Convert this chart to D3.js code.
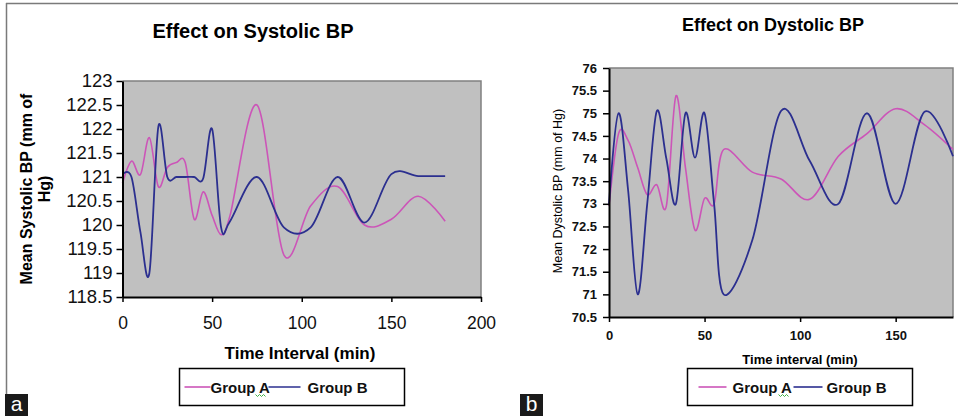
<!DOCTYPE html>
<html>
<head>
<meta charset="utf-8">
<script src="https://cdn.jsdelivr.net/npm/d3@7"></script>
<style>
  body { margin: 0; background: #fff; }
  svg { display: block; font-family: "Liberation Sans", Arial, sans-serif; }
  .axis path, .axis line { stroke: #000; }
</style>
</head>
<body>
<div id="chart"></div>
<script>
// time points (min), same for both panels
var times = [0, 5, 10, 15, 20, 25, 30, 35, 40, 45, 50, 55, 60, 75, 90, 105, 120, 135, 150, 165, 180];

// panel a - systolic
var sysGroupA = [120.87, 121.33, 121.05, 121.82, 120.8, 121.2, 121.3, 121.3, 120.12, 120.69, 120.2, 119.8, 120.2, 122.5, 119.38, 120.4, 120.8, 120.0, 120.12, 120.6, 120.08];
var sysGroupB = [121.05, 121.0, 119.85, 119.0, 122.05, 121.0, 121.0, 121.0, 121.0, 120.97, 122.0, 119.95, 120.08, 121.0, 119.95, 119.95, 121.0, 120.05, 121.06, 121.02, 121.02];
var sysYTicks = [118.5, 119, 119.5, 120, 120.5, 121, 121.5, 122, 122.5, 123];
var sysXTicks = [0, 50, 100, 150, 200];

// panel b - diastolic
var diaGroupA = [72.95, 74.55, 74.4, 73.8, 73.2, 73.42, 72.95, 75.38, 73.8, 72.42, 73.12, 73.0, 74.2, 73.7, 73.55, 73.1, 74.05, 74.55, 75.1, 74.75, 74.2];
var diaGroupB = [73.0, 75.0, 73.3, 71.0, 73.0, 75.05, 74.0, 73.0, 75.0, 74.02, 75.0, 73.0, 71.0, 72.2, 75.05, 73.95, 73.0, 75.0, 73.0, 75.03, 74.05];
var diaYTicks = [70.5, 71, 71.5, 72, 72.5, 73, 73.5, 74, 74.5, 75, 75.5, 76];
var diaXTicks = [0, 50, 100, 150];

var seriesNames = ["Group A", "Group B"];
var colA = "#cc55b8", colB = "#2b2f8f";

var svg = d3.select("#chart").append("svg")
  .attr("width", 958)
  .attr("height", 416);

// outer frame
svg.append("line").attr("x1", 6).attr("x2", 958).attr("y1", 3.5).attr("y2", 3.5)
  .attr("stroke", "#7a7a7a").attr("stroke-width", 1.5);
svg.append("line").attr("x1", 6.5).attr("x2", 6.5).attr("y1", 3).attr("y2", 394)
  .attr("stroke", "#7a7a7a").attr("stroke-width", 1.5);

function drawPanel(o) {
  var x = d3.scaleLinear().domain(o.xDomain).range([o.left, o.right]);
  var y = d3.scaleLinear().domain(o.yDomain).range([o.bottom, o.top]);
  var g = svg.append("g");

  // plot area
  g.append("rect")
    .attr("x", o.left).attr("y", o.top)
    .attr("width", o.right - o.left).attr("height", o.bottom - o.top)
    .attr("fill", "#c0c0c0");
  g.append("path")
    .attr("d", `M${o.left},${o.top}H${o.right}V${o.bottom}`)
    .attr("fill", "none").attr("stroke", "#808080").attr("stroke-width", 1.5);

  var line = d3.line()
    .x((d, i) => x(times[i]))
    .y(d => y(d))
    .curve(d3.curveCardinal.tension(0));

  g.append("path").datum(o.a).attr("d", line)
    .attr("fill", "none").attr("stroke", colA).attr("stroke-width", 1.6);
  g.append("path").datum(o.b).attr("d", line)
    .attr("fill", "none").attr("stroke", colB).attr("stroke-width", 1.8);

  // axes
  var yAxis = g.append("g").attr("class", "axis")
    .attr("transform", `translate(${o.left},0)`)
    .call(d3.axisLeft(y).tickValues(o.yTicks).tickFormat(d3.format("")).tickSize(6).tickPadding(o.yPad).tickSizeOuter(0));
  var xAxis = g.append("g").attr("class", "axis")
    .attr("transform", `translate(0,${o.bottom})`)
    .call(d3.axisBottom(x).tickValues(o.xTicks).tickSize(5).tickPadding(o.xPad).tickSizeOuter(0));
  [yAxis, xAxis].forEach(function(ax, k) {
    ax.selectAll("path").attr("stroke-width", 2);
    ax.selectAll("line").attr("stroke-width", 1.5);
    ax.selectAll("text")
      .attr("fill", "#111")
      .style("font-size", (k == 0 ? o.yTickFont : o.xTickFont) + "px")
      .style("font-weight", o.tickWeight)
      .style("font-family", "'Liberation Sans', Arial, sans-serif");
  });

  // title
  g.append("text")
    .attr("x", o.titleX).attr("y", o.titleY)
    .attr("text-anchor", "middle")
    .style("font-size", o.titleFont + "px").style("font-weight", "bold")
    .text(o.title);

  // y label
  var yl = g.append("text")
    .attr("transform", `translate(${o.yLabelX},${o.yLabelY}) rotate(-90)`)
    .attr("text-anchor", "middle")
    .style("font-size", o.yLabelFont + "px").style("font-weight", o.yLabelWeight);
  o.yLabel.forEach(function(t, i) {
    yl.append("tspan").attr("x", 0).attr("y", i * o.yLabelFont * 1.15).text(t);
  });

  // x label
  g.append("text")
    .attr("x", o.xLabelX).attr("y", o.xLabelY)
    .attr("text-anchor", "middle")
    .style("font-size", o.xLabelFont + "px").style("font-weight", "bold")
    .text(o.xLabel);

  // legend
  var lg = g.append("g").attr("transform", `translate(${o.legX},${o.legY})`);
  lg.append("rect").attr("width", 225).attr("height", 37)
    .attr("fill", "#fff").attr("stroke", "#000").attr("stroke-width", 1.5);
  var items = [
    { name: seriesNames[0], col: colA, lx: o.leg[0], tx: o.leg[1] },
    { name: seriesNames[1], col: colB, lx: o.leg[2], tx: o.leg[3] }
  ];
  items.forEach(function(it) {
    lg.append("line").attr("x1", it.lx[0]).attr("x2", it.lx[1]).attr("y1", 18.5).attr("y2", 18.5)
      .attr("stroke", it.col).attr("stroke-width", 1.6);
    lg.append("text").attr("x", it.tx).attr("y", 24)
      .style("font-size", "15px").style("font-weight", "bold").attr("fill", "#111")
      .text(it.name);
  });
  // spell-check squiggle under "A"
  var sq = o.leg[4];
  lg.append("path")
    .attr("d", `M${sq},26 l2,2 l2,-2 l2,2 l2,-2 l2,2`)
    .attr("fill", "none").attr("stroke", "#3cb043").attr("stroke-width", 1);

  // panel letter
  svg.append("rect").attr("x", o.tagX).attr("y", 394).attr("width", 23).attr("height", 22).attr("fill", "#1a1a1a");
  svg.append("text").attr("x", o.tagX + 11.5).attr("y", 411).attr("text-anchor", "middle")
    .attr("fill", "#fff").style("font-size", "21px").text(o.tag);
}

drawPanel({
  a: sysGroupA, b: sysGroupB,
  xDomain: [0, 200], yDomain: [118.5, 123],
  left: 122.5, right: 481, top: 81, bottom: 297,
  yTicks: sysYTicks, xTicks: sysXTicks, yPad: 4, xPad: 15,
  yTickFont: 18.5, xTickFont: 17.5, tickWeight: "normal",
  title: "Effect on Systolic BP", titleX: 253, titleY: 38, titleFont: 20,
  yLabel: ["Mean Systolic BP (mm of", "Hg)"], yLabelX: 32, yLabelY: 189, yLabelFont: 16, yLabelWeight: "bold",
  xLabel: "Time Interval (min)", xLabelX: 300, xLabelY: 359, xLabelFont: 17,
  legX: 179.5, legY: 368.5, leg: [[5, 31], 31, [89, 121], 128, 76],
  tag: "a", tagX: 5
});

drawPanel({
  a: diaGroupA, b: diaGroupB,
  xDomain: [0, 180], yDomain: [70.5, 76],
  left: 609, right: 953, top: 68, bottom: 317,
  yTicks: diaYTicks, xTicks: diaXTicks, yPad: 6, xPad: 9,
  yTickFont: 13, xTickFont: 13, tickWeight: "bold",
  title: "Effect on Dystolic BP", titleX: 773, titleY: 31, titleFont: 18,
  yLabel: ["Mean Dystolic BP (mm of Hg)"], yLabelX: 562, yLabelY: 191, yLabelFont: 12.5, yLabelWeight: "normal",
  xLabel: "Time interval (min)", xLabelX: 800, xLabelY: 364, xLabelFont: 13,
  legX: 687.5, legY: 368.5, leg: [[11, 39], 45, [106, 135], 139, 91],
  tag: "b", tagX: 520
});
</script>
</body>
</html>
